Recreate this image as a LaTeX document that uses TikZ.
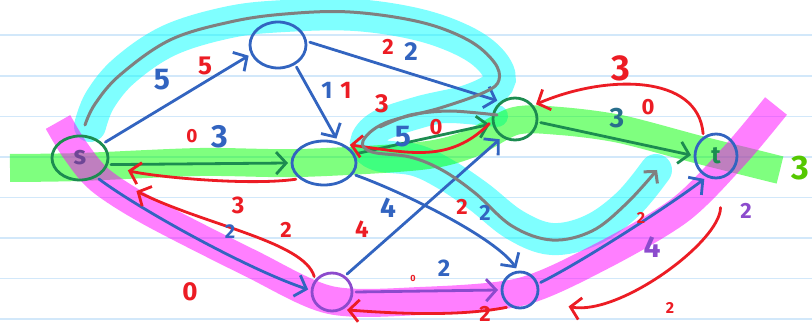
\documentclass[tikz,border=0pt]{standalone}
\usepackage{fontspec}
\setmainfont{Fira Sans}
\usetikzlibrary{arrows.meta,shapes.geometric}
\definecolor{pen}{RGB}{50,100,192}
\definecolor{pred}{RGB}{236,28,36}
\definecolor{pgreen}{RGB}{28,140,80}
\definecolor{pteal}{RGB}{40,110,140}
\definecolor{pgray}{RGB}{128,128,128}
\definecolor{ppurple}{RGB}{140,75,205}
\definecolor{pdark}{RGB}{110,70,150}
\definecolor{ruling}{RGB}{210,232,250}
\definecolor{brightgreen}{RGB}{85,200,0}
\definecolor{hcyan}{RGB}{0,255,255}
\definecolor{hgreen}{RGB}{0,255,0}
\definecolor{hmag}{RGB}{255,0,255}
\tikzset{
  vert/.style={ellipse, draw=pen, line width=2.8pt, inner sep=0pt, outer sep=4pt},
  pedge/.style={draw=pen, line width=2.8pt, line cap=round, line join=round, -{Straight Barb[length=10pt,width=22pt]}},
  redge/.style={pedge, draw=pred},
  lab/.style={inner sep=0pt, font=\bfseries\fontsize{#1}{#1}\selectfont},
  lab/.default=24,
  hl/.style={line width=28pt},
}
\begin{document}
\begin{tikzpicture}[x=1pt,y=-1pt]
\useasboundingbox (0,0) rectangle (812,326);
\fill[white] (0,0) rectangle (812,326);
% notebook ruling
\foreach \yy in {35,76,116.5,157,197.5,238,278.5,319}
  \draw[ruling, line width=1.2pt] (0,\yy) -- (812,\yy);
% highlighters
\begin{scope}[transparency group, opacity=0.5]
\draw[hl, hcyan, line cap=round, line width=32pt] plot[smooth, tension=0.6] coordinates {(90,126) (100,100) (125,70) (170,40) (230,22) (285,16) (355,15) (420,25) (468,43) (494,64) (498,84) (470,100) (420,112) (380,126) (366,143) (378,155) (415,160) (445,174) (478,196) (515,225) (552,239) (592,230) (628,204) (656,170)};
\draw[hcyan, line width=22pt, line cap=round] plot[smooth] coordinates {(497,116) (450,112) (410,116) (380,128)};
\end{scope}
\begin{scope}[transparency group, opacity=0.5]
\draw[hl, hgreen] plot[smooth] coordinates {(10,168) (80,167) (200,162) (300,163) (420,156) (470,144) (515,121) (560,121) (620,129) (700,150) (780,170)};
\end{scope}
\begin{scope}[transparency group, opacity=0.5]
\draw[hl, hmag] plot[smooth] coordinates {(58,122) (75,150) (100,180) (150,212) (250,263) (330,300) (420,301) (520,292) (600,257) (680,210) (735,155) (776,106)};
\end{scope}
% vertices
\node[vert, draw=pgreen, minimum width=56pt, minimum height=44pt, text=pdark, font=\bfseries\fontsize{26}{26}\selectfont] (s) at (80,158) {s};
\node[vert, minimum width=56pt, minimum height=46pt] (a) at (278,45) {};
\node[vert, minimum width=64pt, minimum height=44pt] (b) at (324,163) {};
\node[vert, draw=pgreen, minimum width=44pt, minimum height=42pt] (c) at (515,119) {};
\node[vert, minimum width=42pt, minimum height=44pt, text=pgreen, font=\bfseries\fontsize{24}{24}\selectfont] (t) at (716,156) {t};
\node[vert, draw=ppurple, minimum width=40pt, minimum height=38pt] (d) at (332,292) {};
\node[vert, minimum width=36pt, minimum height=36pt] (e) at (520,290) {};
% capacity edges
\draw[pedge] (s.32) -- (a.200);
\draw[pedge, draw=pgreen] (s.-12) -- (b.180);
\draw[pedge] (a.-50) -- (b.63);
\draw[pedge] (a.5) -- (c.134);
\draw[pedge, draw=pgreen] (b.16) -- (c.192);
\draw[pedge] (b.-21) .. controls +(50,18) and +(-20,-30) .. (e.100);
\draw[pedge] (d.50) -- (c.233);
\draw[pedge, draw=pgreen] (c.-8) -- (t.178);
\draw[pedge] (s.-48) .. controls +(40,30) and +(-60,-20) .. (d.174);
\draw[pedge, draw=ppurple] (d.0) -- (e.180);
\draw[pedge] (e.20) .. controls +(40,-20) and +(-40,30) .. (t.243);
% residual (red) edges
\draw[redge, shorten >=18pt] (b.210) .. controls +(-50,7) and +(40,10) .. (s.-15);
\draw[redge, shorten >=36pt] (d.139) .. controls +(-10,-35) and +(100,50) .. (s.-35);
\draw[redge] (c.190) .. controls +(-40,40) and +(60,8) .. (b.35);
\draw[redge] (t.120) .. controls +(-5,-60) and +(70,-30) .. (c.35);
\draw[redge] (e.-128) .. controls +(-50,10) and +(40,3) .. (d.-50);
\draw[redge, shorten <=26pt, shorten >=30pt] (t.-80) .. controls +(0,60) and +(80,15) .. (e.-30);
% augmenting path (gray)
\draw[pgray, line width=3pt, line cap=round, line join=round, -{Straight Barb[length=8pt,width=18pt]}] plot[smooth, tension=0.6] coordinates {(85,125) (95,104) (120,75) (170,40) (230,22) (285,14) (350,12) (420,22) (468,40) (494,62) (499,80) (485,92) (440,108) (385,123) (363,141) (372,152) (410,157) (442,170) (475,193) (512,226) (552,240) (592,231) (626,204) (657,170)};
\draw[pgray, line width=3pt, line cap=round] plot[smooth] coordinates {(497,115) (450,111) (410,115) (380,127)};
% labels
\node[lab=30, text=pen] (l1) at (162,80) {5};
\node[lab=26, text=pred] (l2) at (205,66) {5};
\node[lab=24, text=pen] (l3) at (327,90) {1};
\node[lab=24, text=pred] (l4) at (346,90) {1};
\node[lab=22, text=pred] (l5) at (388,47) {2};
\node[lab=26, text=pen] (l6) at (411,52) {2};
\node[lab=26, text=pred] (l7) at (382,104) {3};
\node[lab=19, text=pred] (l8) at (192,136) {0};
\node[lab=32, text=pen] (l9) at (220,137) {3};
\node[lab=30, text=pen] (l10) at (403,137) {5};
\node[lab=22, text=pred] (l11) at (436,127) {0};
\node[lab=36, text=pred] (l12) at (621,68) {3};
\node[lab=22, text=pred] (l13) at (648,107) {0};
\node[lab=28, text=pteal] (l14) at (617,118) {3};
\node[lab=24, text=pred] (l15) at (238,205) {3};
\node[lab=22, text=pred] (l16) at (286,230) {2};
\node[lab=20, text=pen] (l17) at (230,232) {2};
\node[lab=24, text=pred] (l18) at (362,229) {4};
\node[lab=28, text=pen] (l19) at (388,208) {4};
\node[lab=22, text=pred] (l20) at (462,207) {2};
\node[lab=22, text=pen] (l21) at (485,213) {2};
\node[lab=26, text=pred] (l22) at (190,292) {0};
\node[lab=9, text=pred] (l23) at (413,278) {0};
\node[lab=24, text=pen] (l24) at (444,268) {2};
\node[lab=22, text=pred] (l25) at (485,314) {2};
\node[lab=16, text=pred] (l26) at (641,218) {2};
\node[lab=16, text=pred] (l27) at (670,308) {2};
\node[lab=30, text=ppurple] (l28) at (652,247) {4};
\node[lab=22, text=ppurple] (l29) at (746,211) {2};
\node[lab=34, text=brightgreen] (l30) at (800,168) {3};
\end{tikzpicture}
\end{document}
